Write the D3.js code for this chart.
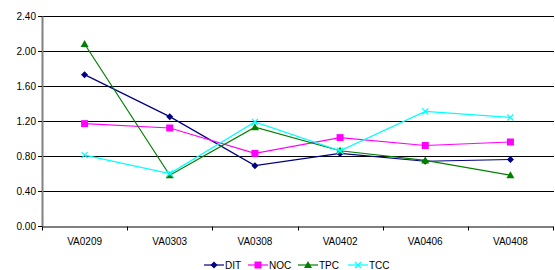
<!DOCTYPE html>
<html><head><meta charset="utf-8">
<script src="https://cdn.jsdelivr.net/npm/d3@7"></script>
<style>body{margin:0;background:#fff;}svg{display:block;font-family:"Liberation Sans",Arial,sans-serif;}</style>
</head><body><svg id="c" width="555" height="270"></svg>
<script>
const categories = ["VA0209","VA0303","VA0308","VA0402","VA0406","VA0408"];
const DIT = [1.73,1.25,0.69,0.83,0.74,0.76];
const NOC = [1.17,1.12,0.83,1.01,0.92,0.96];
const TPC = [2.08,0.58,1.13,0.86,0.75,0.58];
const TCC = [0.81,0.60,1.19,0.86,1.31,1.24];
const yTicks = [0,0.4,0.8,1.2,1.6,2.0,2.4];
const seriesNames = ["DIT","NOC","TPC","TCC"];
const seriesData = [DIT,NOC,TPC,TCC];
const colors = ["#000080","#FF00FF","#008000","#00FFFF"];
const markers = ["diamond","square","triangle","x"];

const svg = d3.select("#c");
const L=42,R=553,T=16,B=226;
const x = d3.scaleBand().domain(categories).range([L,R]);
const y = d3.scaleLinear().domain([0,2.4]).range([B,T]);

// gridlines
svg.append("g").selectAll("line").data(yTicks.filter(d=>d>0)).join("line")
  .attr("x1",L).attr("x2",R+1).attr("y1",d=>Math.round(y(d))+0.5).attr("y2",d=>Math.round(y(d))+0.5)
  .attr("stroke","#000").attr("stroke-width",1);

// y axis
const ya = svg.append("g").attr("transform",`translate(${L},0)`)
  .call(d3.axisLeft(y).tickValues(yTicks).tickFormat(d3.format(".2f")).tickSize(4).tickSizeOuter(0));
ya.select(".domain").attr("stroke","#808080").attr("stroke-width",2);
ya.selectAll(".tick line").attr("stroke","#000");
ya.selectAll("text").attr("font-size",10).attr("fill","#000").attr("x",-6).attr("font-family","Liberation Sans, Arial, sans-serif");

// x axis
const xa = svg.append("g").attr("transform",`translate(0,${B+0.5})`)
  .call(d3.axisBottom(x).tickSize(0).tickSizeOuter(0));
xa.select(".domain").attr("stroke","#000");
xa.selectAll("text").attr("font-size",10).attr("fill","#000").attr("dy","0").attr("y",18).attr("font-family","Liberation Sans, Arial, sans-serif");
const bounds = categories.map(c=>x(c)).concat([R]);
xa.selectAll(".bt").data(bounds).join("line").attr("class","bt")
  .attr("x1",d=>Math.round(d)+0.5).attr("x2",d=>Math.round(d)+0.5).attr("y1",0).attr("y2",4).attr("stroke","#000");

function drawMarker(g,type,cx,cy,color){
  if(type==="diamond"){
    g.append("path").attr("d",`M${cx},${cy-3.5}L${cx+3.5},${cy}L${cx},${cy+3.5}L${cx-3.5},${cy}Z`).attr("fill",color);
  } else if(type==="square"){
    g.append("rect").attr("x",cx-3.5).attr("y",cy-3.5).attr("width",7).attr("height",7).attr("fill",color);
  } else if(type==="triangle"){
    g.append("path").attr("d",`M${cx},${cy-4}L${cx+4},${cy+3}L${cx-4},${cy+3}Z`).attr("fill",color);
  } else {
    g.append("path").attr("d",`M${cx-3},${cy-3}L${cx+3},${cy+3}M${cx+3},${cy-3}L${cx-3},${cy+3}`).attr("stroke",color).attr("stroke-width",1.3);
  }
}

const line = d3.line().x((d,i)=>x(categories[i])+x.bandwidth()/2).y(d=>y(d));
seriesData.forEach((vals,s)=>{
  const g = svg.append("g");
  g.append("path").datum(vals).attr("d",line).attr("fill","none").attr("stroke",colors[s]).attr("stroke-width",1.2);
  vals.forEach((v,i)=>drawMarker(g,markers[s],x(categories[i])+x.bandwidth()/2,y(v),colors[s]));
});

// legend
const lg = svg.append("g").attr("transform","translate(204,265)");
const offsets=[0,44,94,144];
seriesNames.forEach((n,s)=>{
  const g = lg.append("g").attr("transform",`translate(${offsets[s]},0)`);
  g.append("line").attr("x1",0).attr("x2",20).attr("y1",0).attr("y2",0).attr("stroke",colors[s]).attr("stroke-width",1.2);
  drawMarker(g,markers[s],10,0,colors[s]);
  g.append("text").attr("x",21).attr("y",3.5).attr("font-size",10).text(n);
});
</script></body></html>
